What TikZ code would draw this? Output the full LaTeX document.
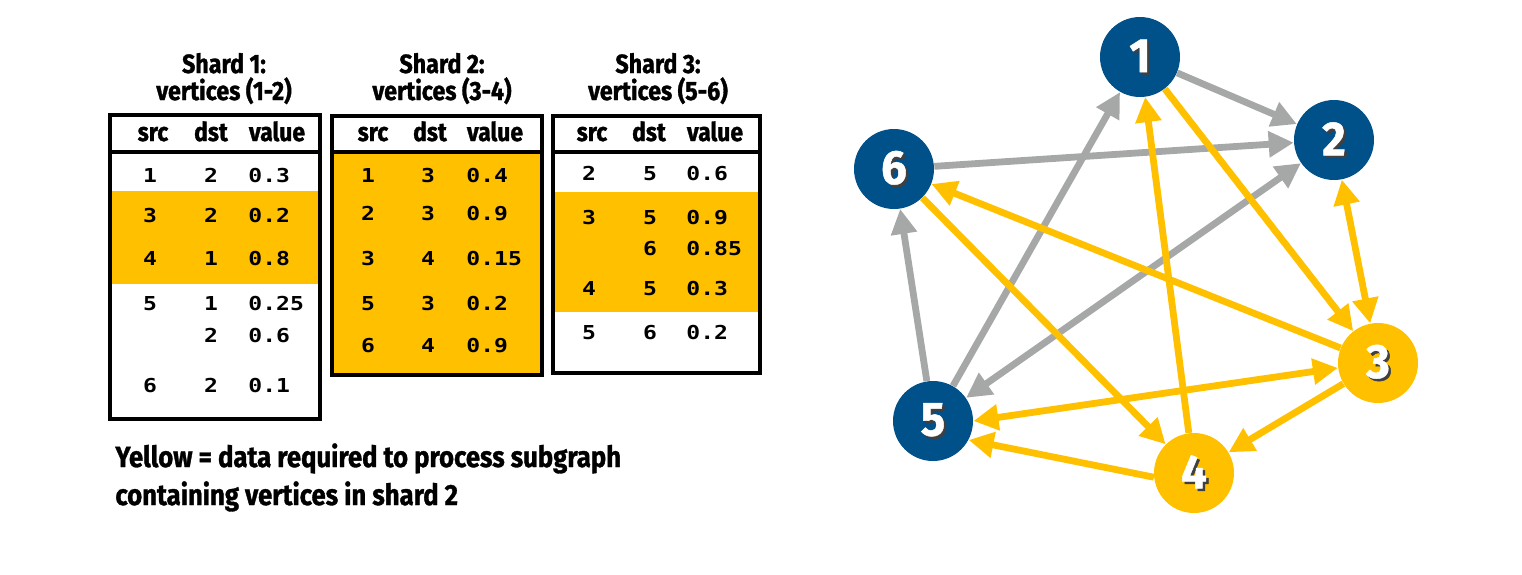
\documentclass[tikz,border=0pt]{standalone}
\usepackage{fontspec}
\usetikzlibrary{arrows.meta}
\setmainfont{Fira Sans}
\newfontfamily\condfont[FakeStretch=0.88,FakeBold=1.2]{Fira Sans}
\newfontfamily\numfont[FakeStretch=0.95,FakeBold=1]{Fira Sans}
\newfontfamily\tabmono[FakeStretch=1.2]{DejaVu Sans Mono}
\definecolor{vblue}{HTML}{00508A}
\definecolor{vyellow}{HTML}{FFC000}
\definecolor{egray}{HTML}{A6A8A7}
\newcommand\shnum[1]{\makebox[0pt][l]{\hspace{1.2pt}\raisebox{-1.2pt}{\textcolor{black!75}{#1}}}\textcolor{white}{#1}}
\tikzset{
  ttltext/.style={inner sep=0pt,anchor=base,font=\condfont\bfseries\fontsize{13.2}{15}\selectfont},
  headtext/.style={inner sep=0pt,anchor=base,font=\condfont\bfseries\fontsize{13}{15}\selectfont},
  captext/.style={inner sep=0pt,anchor=base west,font=\condfont\bfseries\fontsize{14.6}{17}\selectfont},
  celltext/.style={inner sep=0pt,anchor=base,font=\tabmono\bfseries\fontsize{9.6}{11}\selectfont},
  valtext/.style={celltext,anchor=base west},
  tabframe/.style={line width=2pt,draw=black},
  vtx/.style={circle,inner sep=0pt,minimum size=40pt,font=\numfont\bfseries\fontsize{24}{26}\selectfont},
  bluev/.style={vtx,fill=vblue},
  yelv/.style={vtx,fill=vyellow},
  edgebase/.style={line width=3.4pt,arrows={-Triangle[length=12.5pt,width=12.5pt]}},
  bothtips/.style={arrows={Triangle[length=12.5pt,width=12.5pt]-Triangle[length=12.5pt,width=12.5pt]}},
  gedge/.style={edgebase,draw=egray},
  yedge/.style={edgebase,draw=vyellow},
}
\begin{document}
\begin{tikzpicture}[x=0.5pt,y=-0.5pt]
\useasboundingbox (0,0) rectangle (1522,574);
% ---------- Table 1
\fill[vyellow] (110,191) rectangle (320,284);
\draw[tabframe] (110,115) rectangle (320,419);
\draw[tabframe] (110,152) -- (320,152);
\node[ttltext] (t1a) at (224,73) {Shard 1:};
\node[ttltext] (t1b) at (224,100) {vertices (1-2)};
\node[headtext] (t1hs) at (153,141) {src};
\node[headtext] (t1hd) at (211,141) {dst};
\node[headtext] (t1hv) at (277,141) {value};
\foreach \y/\t [count=\i] in {175/1,215/3,258/4,303/5,385/6}
  \node[celltext] (t1s\i) at (150,\y+7) {\t};
\foreach \y/\t [count=\i] in {175/2,215/2,258/1,303/1,335/2,385/2}
  \node[celltext] (t1d\i) at (211,\y+7) {\t};
\foreach \y/\t [count=\i] in {175/0.3,215/0.2,258/0.8,303/0.25,335/0.6,385/0.1}
  \node[valtext] (t1v\i) at (248,\y+7) {\t};
% ---------- Table 2
\fill[vyellow] (332,152) rectangle (542,375);
\draw[tabframe] (332,116) rectangle (542,375);
\draw[tabframe] (332,152) -- (542,152);
\node[ttltext] (t2a) at (442,73) {Shard 2:};
\node[ttltext] (t2b) at (442,100) {vertices (3-4)};
\node[headtext] (t2hs) at (373,141) {src};
\node[headtext] (t2hd) at (430,141) {dst};
\node[headtext] (t2hv) at (495,141) {value};
\foreach \y/\t [count=\i] in {175/1,213/2,258/3,303/5,345/6}
  \node[celltext] (t2s\i) at (368,\y+7) {\t};
\foreach \y/\t [count=\i] in {175/3,213/3,258/4,303/3,345/4}
  \node[celltext] (t2d\i) at (428,\y+7) {\t};
\foreach \y/\t [count=\i] in {175/0.4,213/0.9,258/0.15,303/0.2,345/0.9}
  \node[valtext] (t2v\i) at (466,\y+7) {\t};
% ---------- Table 3
\fill[vyellow] (553,192) rectangle (760,312);
\draw[tabframe] (553,116) rectangle (760,373);
\draw[tabframe] (553,152) -- (760,152);
\node[ttltext] (t3a) at (658,73) {Shard 3:};
\node[ttltext] (t3b) at (658,100) {vertices (5-6)};
\node[headtext] (t3hs) at (592,141) {src};
\node[headtext] (t3hd) at (649,141) {dst};
\node[headtext] (t3hv) at (715,141) {value};
\foreach \y/\t [count=\i] in {173/2,217/3,288/4,332/5}
  \node[celltext] (t3s\i) at (589,\y+7) {\t};
\foreach \y/\t [count=\i] in {173/5,217/5,248/6,288/5,332/6}
  \node[celltext] (t3d\i) at (650,\y+7) {\t};
\foreach \y/\t [count=\i] in {173/0.6,217/0.9,248/0.85,288/0.3,332/0.2}
  \node[valtext] (t3v\i) at (686,\y+7) {\t};
% ---------- caption
\node[captext] (capa) at (115,467) {Yellow = data required to process subgraph};
\node[captext] (capb) at (115,505) {containing vertices in shard 2};
% ---------- graph
\node[bluev] (n1) at (1140,57) {\shnum{1}};
\node[bluev] (n2) at (1334,140) {\shnum{2}};
\node[yelv]  (n3) at (1378,363) {\shnum{3}};
\node[yelv]  (n4) at (1194,473) {\shnum{4}};
\node[bluev] (n5) at (933,421) {\shnum{5}};
\node[bluev] (n6) at (894,169) {\shnum{6}};
% gray edges
\draw[gedge] (n1) -- (n2);
\draw[gedge] (n6) -- (n2);
\draw[gedge] (n5) -- (n1);
\draw[gedge] (n5) -- (n6);
\draw[gedge,bothtips] (n5) -- (n2);
% yellow edges
\draw[yedge] (n1) -- (n3);
\draw[yedge,bothtips] (n2) -- (n3);
\draw[yedge] (n3) -- (n4);
\draw[yedge] (n4) -- (n1);
\draw[yedge] (n6) -- (n4);
\draw[yedge] (n3) -- (n6);
\draw[yedge,bothtips] (n5.0) -- (n3.187);
\draw[yedge] (n4.186) -- (n5.-28);
\end{tikzpicture}
\end{document}
